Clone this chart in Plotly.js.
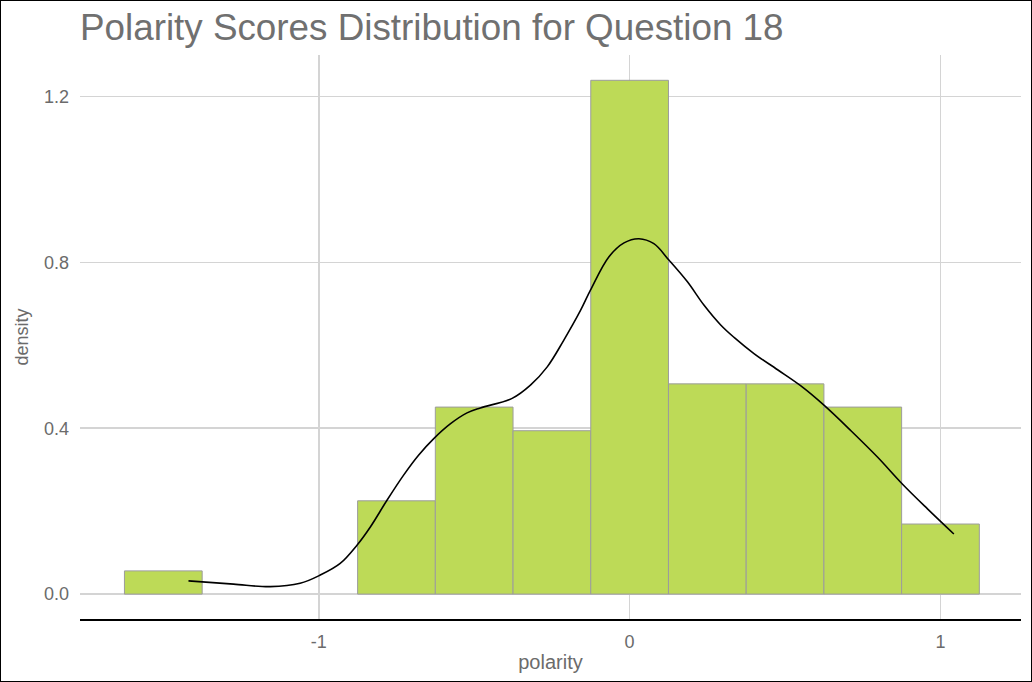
<!DOCTYPE html>
<html>
<head>
<meta charset="utf-8">
<script src="https://cdn.plot.ly/plotly-3.0.1.min.js"></script>
<style>
  html, body { margin: 0; padding: 0; background: #fff; }
  #wrap { position: relative; width: 1032px; height: 682px; }
  #chart { width: 1032px; height: 682px; }
  #frame { position: absolute; left: 0; top: 0; width: 1030px; height: 680px; border: 1px solid #000; pointer-events: none; }
</style>
</head>
<body>
<div id="wrap">
  <div id="chart"></div>
  <div id="frame"></div>
</div>
<script>
// Histogram bins (centers, width 0.25) and density heights
const binCenters = [-1.5, -0.75, -0.5, -0.25, 0, 0.25, 0.5, 0.75, 1.0];
const binDensity = [0.056, 0.225, 0.451, 0.394, 1.239, 0.507, 0.507, 0.451, 0.169];

// Kernel density curve
const kdeX = [-1.419, -1.274, -1.156, -1.060, -0.995, -0.931, -0.877, -0.834, -0.780, -0.727,
              -0.679, -0.630, -0.576, -0.523, -0.480, -0.378, -0.319, -0.265, -0.212, -0.158,
              -0.126, -0.067, -0.018, 0.030, 0.078, 0.127, 0.186, 0.239, 0.293, 0.336,
              0.400, 0.476, 0.551, 0.626, 0.712, 0.798, 0.878, 0.959, 1.043];
const kdeY = [0.032, 0.024, 0.018, 0.026, 0.046, 0.074, 0.118, 0.162, 0.227, 0.287,
              0.335, 0.375, 0.411, 0.437, 0.449, 0.472, 0.504, 0.548, 0.612, 0.684,
              0.733, 0.813, 0.847, 0.857, 0.845, 0.805, 0.753, 0.697, 0.649, 0.619,
              0.580, 0.541, 0.502, 0.455, 0.394, 0.330, 0.265, 0.205, 0.145];

const xTickVals = [-1, 0, 1];
const xTickText = ['-1', '0', '1'];
const yTickVals = [0, 0.4, 0.8, 1.2];
const yTickText = ['0.0', '0.4', '0.8', '1.2'];

const titleText = 'Polarity Scores Distribution for Question 18';
const xTitle = 'polarity';
const yTitle = 'density';

const FONT = 'Liberation Sans, Arial, sans-serif';

const traces = [
  {
    type: 'bar',
    x: binCenters,
    y: binDensity,
    width: 0.25,
    marker: { color: '#bdda57', line: { color: '#9c9c9c', width: 1 } },
    hoverinfo: 'skip'
  },
  {
    type: 'scatter',
    mode: 'lines',
    x: kdeX,
    y: kdeY,
    line: { color: '#000000', width: 1.6, shape: 'spline', smoothing: 1 },
    hoverinfo: 'skip'
  }
];

const layout = {
  width: 1032,
  height: 682,
  showlegend: false,
  paper_bgcolor: '#ffffff',
  plot_bgcolor: '#ffffff',
  margin: { l: 80, r: 11, t: 55, b: 63 },
  bargap: 0,
  title: {
    text: titleText,
    font: { family: FONT, size: 36.8, color: '#707070' },
    x: 0, xref: 'paper', xanchor: 'left',
    y: 1 - 27 / 682, yref: 'container', yanchor: 'middle'
  },
  xaxis: {
    range: [-1.768, 1.259],
    tickvals: xTickVals,
    ticktext: xTickText,
    showgrid: true,
    gridcolor: '#d4d4d4',
    gridwidth: 1.5,
    zeroline: false,
    showline: true,
    linecolor: '#000000',
    linewidth: 2,
    ticks: '',
    ticklabelstandoff: 5,
    tickfont: { family: FONT, size: 18, color: '#6b6b6b' },
    title: { text: xTitle, font: { family: FONT, size: 20, color: '#6b6b6b' }, standoff: 4 }
  },
  yaxis: {
    range: [-0.06, 1.30],
    tickvals: yTickVals,
    ticktext: yTickText,
    showgrid: true,
    gridcolor: '#d4d4d4',
    gridwidth: 1.5,
    zeroline: false,
    showline: false,
    ticks: '',
    ticklabelstandoff: 10,
    tickfont: { family: FONT, size: 18, color: '#6b6b6b' },
    title: { text: yTitle, font: { family: FONT, size: 18, color: '#6b6b6b' }, standoff: 10 }
  }
};

Plotly.newPlot('chart', traces, layout, { staticPlot: true, displayModeBar: false });
</script>
</body>
</html>
